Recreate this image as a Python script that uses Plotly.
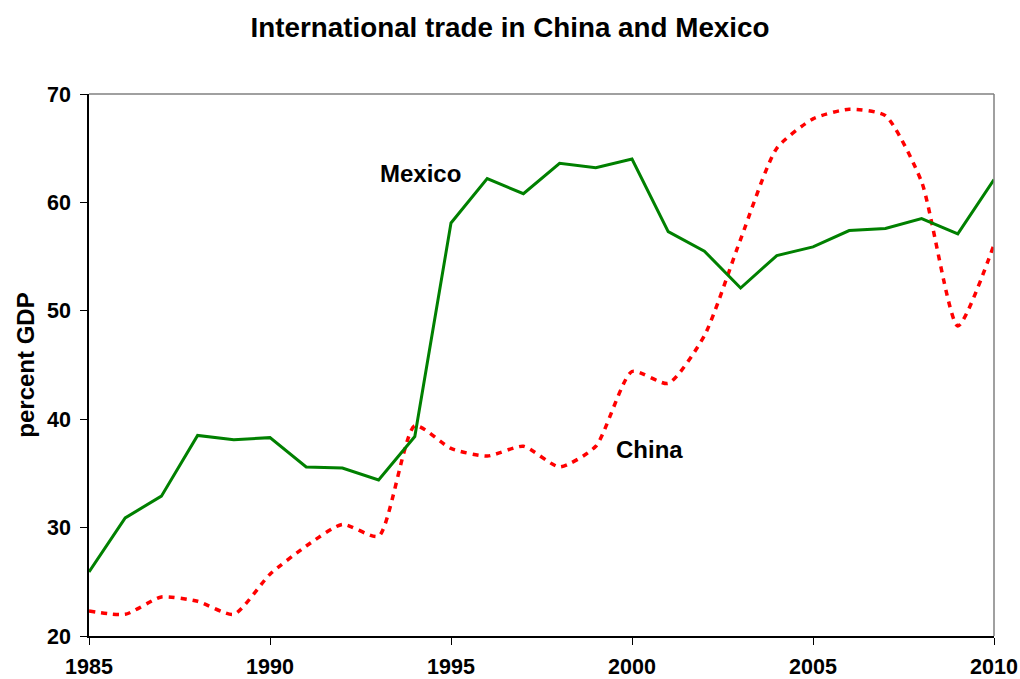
import plotly.graph_objects as go

years = list(range(1985, 2011))
mexico = [25.9, 30.9, 32.9, 38.5, 38.1, 38.3, 35.6, 35.5, 34.4, 38.4,
          58.1, 62.2, 60.8, 63.6, 63.2, 64.0, 57.3, 55.5, 52.1, 55.1,
          55.9, 57.4, 57.6, 58.5, 57.1, 62.1]
china = [22.3, 22.0, 23.6, 23.2, 22.0, 25.7, 28.3, 30.3, 29.2, 39.4,
         37.3, 36.6, 37.5, 35.6, 37.5, 44.4, 43.3, 47.7, 56.6, 65.0,
         67.7, 68.6, 68.0, 61.9, 48.6, 56.1]
x_ticks = [1985, 1990, 1995, 2000, 2005, 2010]
y_ticks = [20, 30, 40, 50, 60, 70]

FONT = "Liberation Sans, Arial, sans-serif"

fig = go.Figure()
fig.add_trace(go.Scatter(x=years, y=china, mode="lines", name="China",
                         line=dict(color="#ff0000", width=3.5, dash="6px,6px", shape="spline", smoothing=0.6)))
fig.add_trace(go.Scatter(x=years, y=mexico, mode="lines", name="Mexico",
                         line=dict(color="#008000", width=3)))

fig.add_annotation(x=1994.17, y=62.7, text="<b>Mexico</b>", showarrow=False,
                   font=dict(family=FONT, size=24, color="black"))
fig.add_annotation(x=2000.47, y=37.25, text="<b>China</b>", showarrow=False,
                   font=dict(family=FONT, size=24, color="black"))

# gray top and right border
fig.add_shape(type="line", xref="paper", yref="paper", x0=0, x1=1, y0=1, y1=1,
              line=dict(color="#808080", width=1.5))
fig.add_shape(type="line", xref="paper", yref="paper", x0=1, x1=1, y0=0, y1=1,
              line=dict(color="#808080", width=1.5))

W, H = 1020, 679
fig.update_layout(
    width=W, height=H,
    margin=dict(l=89, r=26, t=94, b=43, autoexpand=False),
    paper_bgcolor="white", plot_bgcolor="white",
    showlegend=False,
    font=dict(family=FONT, color="black"),
    title=dict(text="<b>International trade in China and Mexico</b>",
               x=0.5, xref="container", xanchor="center",
               y=1 - 27 / H, yref="container", yanchor="middle",
               font=dict(family=FONT, size=27.8, color="black")),
    xaxis=dict(range=[1985, 2010], tickvals=x_ticks, ticktext=[f"<b>{v}</b>" for v in x_ticks],
               showline=True, linecolor="black", linewidth=1.5, ticks="outside",
               ticklen=7, tickwidth=1, tickcolor="black", showgrid=False, zeroline=False,
               automargin=False,
               tickfont=dict(family=FONT, size=21.5, color="black"), ticklabelstandoff=3),
    yaxis=dict(range=[20, 70], tickvals=y_ticks, ticktext=[f"<b>{v}</b>" for v in y_ticks],
               showline=True, linecolor="black", linewidth=1.5, ticks="outside",
               ticklen=7, tickwidth=1, tickcolor="black", showgrid=False, zeroline=False,
               automargin=False,
               tickfont=dict(family=FONT, size=21.5, color="black"), ticklabelstandoff=5,
               title=dict(text="<b>percent GDP</b>", standoff=6,
                          font=dict(family=FONT, size=24, color="black"))),
)

fig.write_html("out.html", config={"displayModeBar": False},
               post_script="document.body.style.margin='0';document.body.style.overflow='hidden';")
